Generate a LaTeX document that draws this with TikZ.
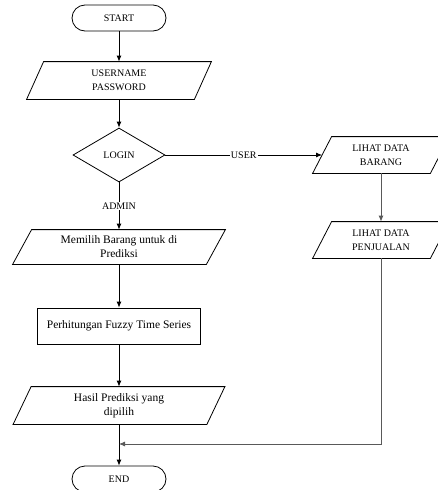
\documentclass[tikz,border=0pt]{standalone}
\usepackage{fontspec}
\setmainfont{Liberation Serif}
\usetikzlibrary{shapes.geometric,arrows.meta}
\begin{document}
\begin{tikzpicture}[x=1pt,y=-1pt,line width=0.8pt,
  capsfont/.style={font=\fontsize{10}{14}\selectfont},
  textfont/.style={font=\fontsize{11.5}{14}\selectfont},
  term/.style={draw,rounded corners=13pt,minimum width=94pt,minimum height=26pt,inner sep=0pt,capsfont},
  io/.style={inner sep=0pt,align=center,minimum height=37pt},
  proc/.style={draw,inner sep=0pt,minimum width=163pt,minimum height=36pt,textfont},
  dec/.style={draw,diamond,inner sep=0pt,minimum width=92pt,minimum height=54pt,capsfont},
  arr/.style={-{Latex[length=6pt,width=5pt]}},
  lbl/.style={fill=white,inner sep=1pt,capsfont}
]
\clip (0,0) rectangle (438,490);
\useasboundingbox (0,0) rectangle (438,490);

\node[term] (start) at (119,18) {START};
\node[io,capsfont,minimum width=167pt] (up) at (119,80.5) {USERNAME\\PASSWORD};
\node[dec] (login) at (119,155) {LOGIN};
\node[io,textfont,minimum width=193pt,minimum height=34pt] (pick) at (119,247) {Memilih Barang untuk di\\Prediksi};
\node[proc] (calc) at (119,326) {Perhitungan Fuzzy Time Series};
\node[io,textfont,minimum width=193pt] (hasil) at (119,405.5) {Hasil Prediksi yang\\dipilih};
\node[term] (end) at (119,479) {END};
\node[io,capsfont,minimum width=117pt,minimum height=36pt] (barang) at (381,155) {LIHAT DATA\\BARANG};
\node[io,capsfont,minimum width=117pt,minimum height=36pt] (jual) at (381,240) {LIHAT DATA\\PENJUALAN};

\foreach \n/\s in {up/17,pick/19,hasil/18,barang/19,jual/19}
  \draw ([xshift={\s*0.5pt}]\n.north west) -- ([xshift={\s*0.5pt}]\n.north east)
     -- ([xshift={-\s*0.5pt}]\n.south east) -- ([xshift={-\s*0.5pt}]\n.south west) -- cycle;

\coordinate (m) at (119,444);

\draw[arr] (start) -- (up);
\draw[arr] (up) -- (login);
\draw[arr] (login) -- node[lbl] {ADMIN} (pick);
\draw[arr] (pick) -- (calc);
\draw[arr] (calc) -- (hasil);
\draw[arr] (hasil) -- (end);
\draw[arr] (login.east) -- node[lbl] {USER} (barang.west);
\draw[arr,black!65] (barang) -- (jual);
\draw[arr,black!65] (jual.south) |- (m);
\end{tikzpicture}
\end{document}
